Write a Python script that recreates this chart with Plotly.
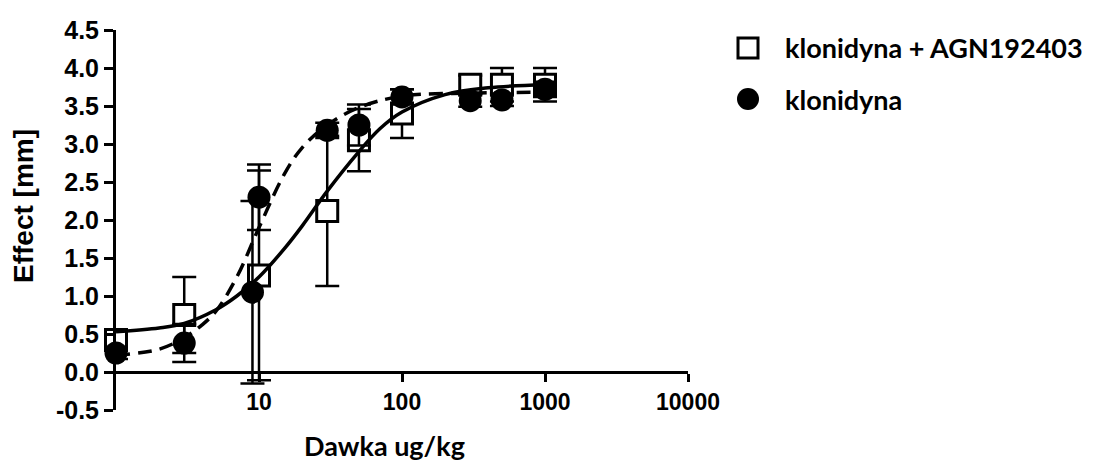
import plotly.graph_objects as go

# Doses (ug/kg) and mean effects (mm) with SEM
agn_dose = [1, 3, 10, 30, 50, 100, 300, 500, 1000]
agn_effect = [0.42, 0.75, 1.27, 2.12, 3.05, 3.40, 3.78, 3.78, 3.78]
agn_sem = [0.10, 0.50, 1.38, 0.99, 0.41, 0.32, 0.12, 0.22, 0.22]

klo_dose = [1, 3, 9, 10, 30, 50, 100, 300, 500, 1000]
klo_effect = [0.25, 0.38, 1.05, 2.30, 3.18, 3.25, 3.62, 3.57, 3.58, 3.72]
klo_sem = [0.08, 0.25, 1.20, 0.43, 0.10, 0.27, 0.10, 0.08, 0.08, 0.10]

# Fitted dose-response curves
agn_fit_dose = [1, 2, 3, 5, 7, 10, 15, 20, 30, 50, 70, 100, 200, 400, 1000]
agn_fit_effect = [0.53, 0.58, 0.64, 0.82, 1.00, 1.25, 1.62, 1.92, 2.38, 2.90, 3.20, 3.42, 3.65, 3.74, 3.78]

klo_fit_dose = [1, 2, 3, 4, 5, 7, 10, 15, 20, 30, 50, 100, 300, 1000]
klo_fit_effect = [0.22, 0.30, 0.45, 0.62, 0.80, 1.25, 1.90, 2.60, 2.95, 3.25, 3.48, 3.63, 3.67, 3.68]

y_ticks = [-0.5, 0.0, 0.5, 1.0, 1.5, 2.0, 2.5, 3.0, 3.5, 4.0, 4.5]
x_ticks = [10, 100, 1000, 10000]

legend_labels = ["klonidyna + AGN192403", "klonidyna"]

W, H = 1099, 464
L, R, T, B = 116, 688, 30, 410


def px(x):
    return (x - L) / (R - L)


def py(y):
    return (B - y) / (B - T)


fig = go.Figure()

err_style = dict(type="data", visible=True, thickness=2.5, width=12, color="black")

fig.add_trace(go.Scatter(
    x=agn_dose, y=agn_effect, mode="markers",
    marker=dict(symbol="square", size=21, color="white",
                line=dict(color="black", width=3)),
    error_y=dict(array=agn_sem, **err_style),
    cliponaxis=False, showlegend=False,
))

fig.add_trace(go.Scatter(
    x=agn_fit_dose, y=agn_fit_effect, mode="lines",
    line=dict(color="black", width=3.5, shape="spline"),
    cliponaxis=False, showlegend=False,
))

fig.add_trace(go.Scatter(
    x=klo_fit_dose, y=klo_fit_effect, mode="lines",
    line=dict(color="black", width=3.5, shape="spline", dash="14px,8px"),
    cliponaxis=False, showlegend=False,
))

fig.add_trace(go.Scatter(
    x=klo_dose, y=klo_effect, mode="markers",
    marker=dict(symbol="circle", size=23, color="black",
                line=dict(color="black", width=0)),
    error_y=dict(array=klo_sem, **err_style),
    cliponaxis=False, showlegend=False,
))

tick_font = dict(family="Liberation Sans, Arial, sans-serif", size=25,
                 color="black", weight="bold")

fig.update_xaxes(
    type="log", range=[0, 4],
    tickvals=x_ticks, ticktext=[str(v) for v in x_ticks],
    showline=True, linecolor="black", linewidth=3,
    ticks="outside", ticklen=8, tickwidth=3, tickcolor="black",
    showgrid=False, zeroline=False,
    anchor="free", position=0.1,
    tickfont=dict(tick_font, size=23),
)

fig.update_yaxes(
    range=[-0.5, 4.5],
    tickvals=y_ticks, ticktext=[f"{v:.1f}" for v in y_ticks],
    showline=True, linecolor="black", linewidth=3,
    ticks="outside", ticklen=9, tickwidth=3, tickcolor="black",
    showgrid=False, zeroline=False,
    tickfont=tick_font,
)

# Legend swatches and labels
legend_font = dict(family="Lato, Open Sans, sans-serif", size=27,
                   color="black", weight="bold")
shapes = [
    dict(type="rect", xref="paper", yref="paper",
         xsizemode="pixel", ysizemode="pixel",
         xanchor=px(748), yanchor=py(48),
         x0=-10, x1=10, y0=-10, y1=10,
         line=dict(color="black", width=3), fillcolor="white"),
    dict(type="circle", xref="paper", yref="paper",
         xsizemode="pixel", ysizemode="pixel",
         xanchor=px(748), yanchor=py(99),
         x0=-11, x1=11, y0=-11, y1=11,
         line=dict(color="black", width=0), fillcolor="black"),
]

annotations = [
    dict(text=legend_labels[0], xref="paper", yref="paper",
         x=px(783), y=py(47), xanchor="left", yanchor="middle",
         showarrow=False, font=legend_font),
    dict(text=legend_labels[1], xref="paper", yref="paper",
         x=px(783), y=py(99), xanchor="left", yanchor="middle",
         showarrow=False, font=legend_font),
    dict(text="Dawka ug/kg", xref="paper", yref="paper",
         x=px(384), y=py(445), xanchor="center", yanchor="middle",
         showarrow=False, font=dict(family="Lato, Open Sans, sans-serif",
                                    size=27, color="black", weight="bold")),
    dict(text="Effect [mm]", xref="paper", yref="paper",
         x=px(23), y=py(206), xanchor="center", yanchor="middle",
         textangle=-90, showarrow=False,
         font=dict(family="Liberation Sans, Arial, sans-serif", size=28,
                   color="black", weight="bold")),
]

fig.update_layout(
    width=W, height=H,
    margin=dict(l=L, r=W - R, t=T, b=H - B),
    paper_bgcolor="white", plot_bgcolor="white",
    shapes=shapes, annotations=annotations,
    showlegend=False,
)

fig.write_html("out.html")
